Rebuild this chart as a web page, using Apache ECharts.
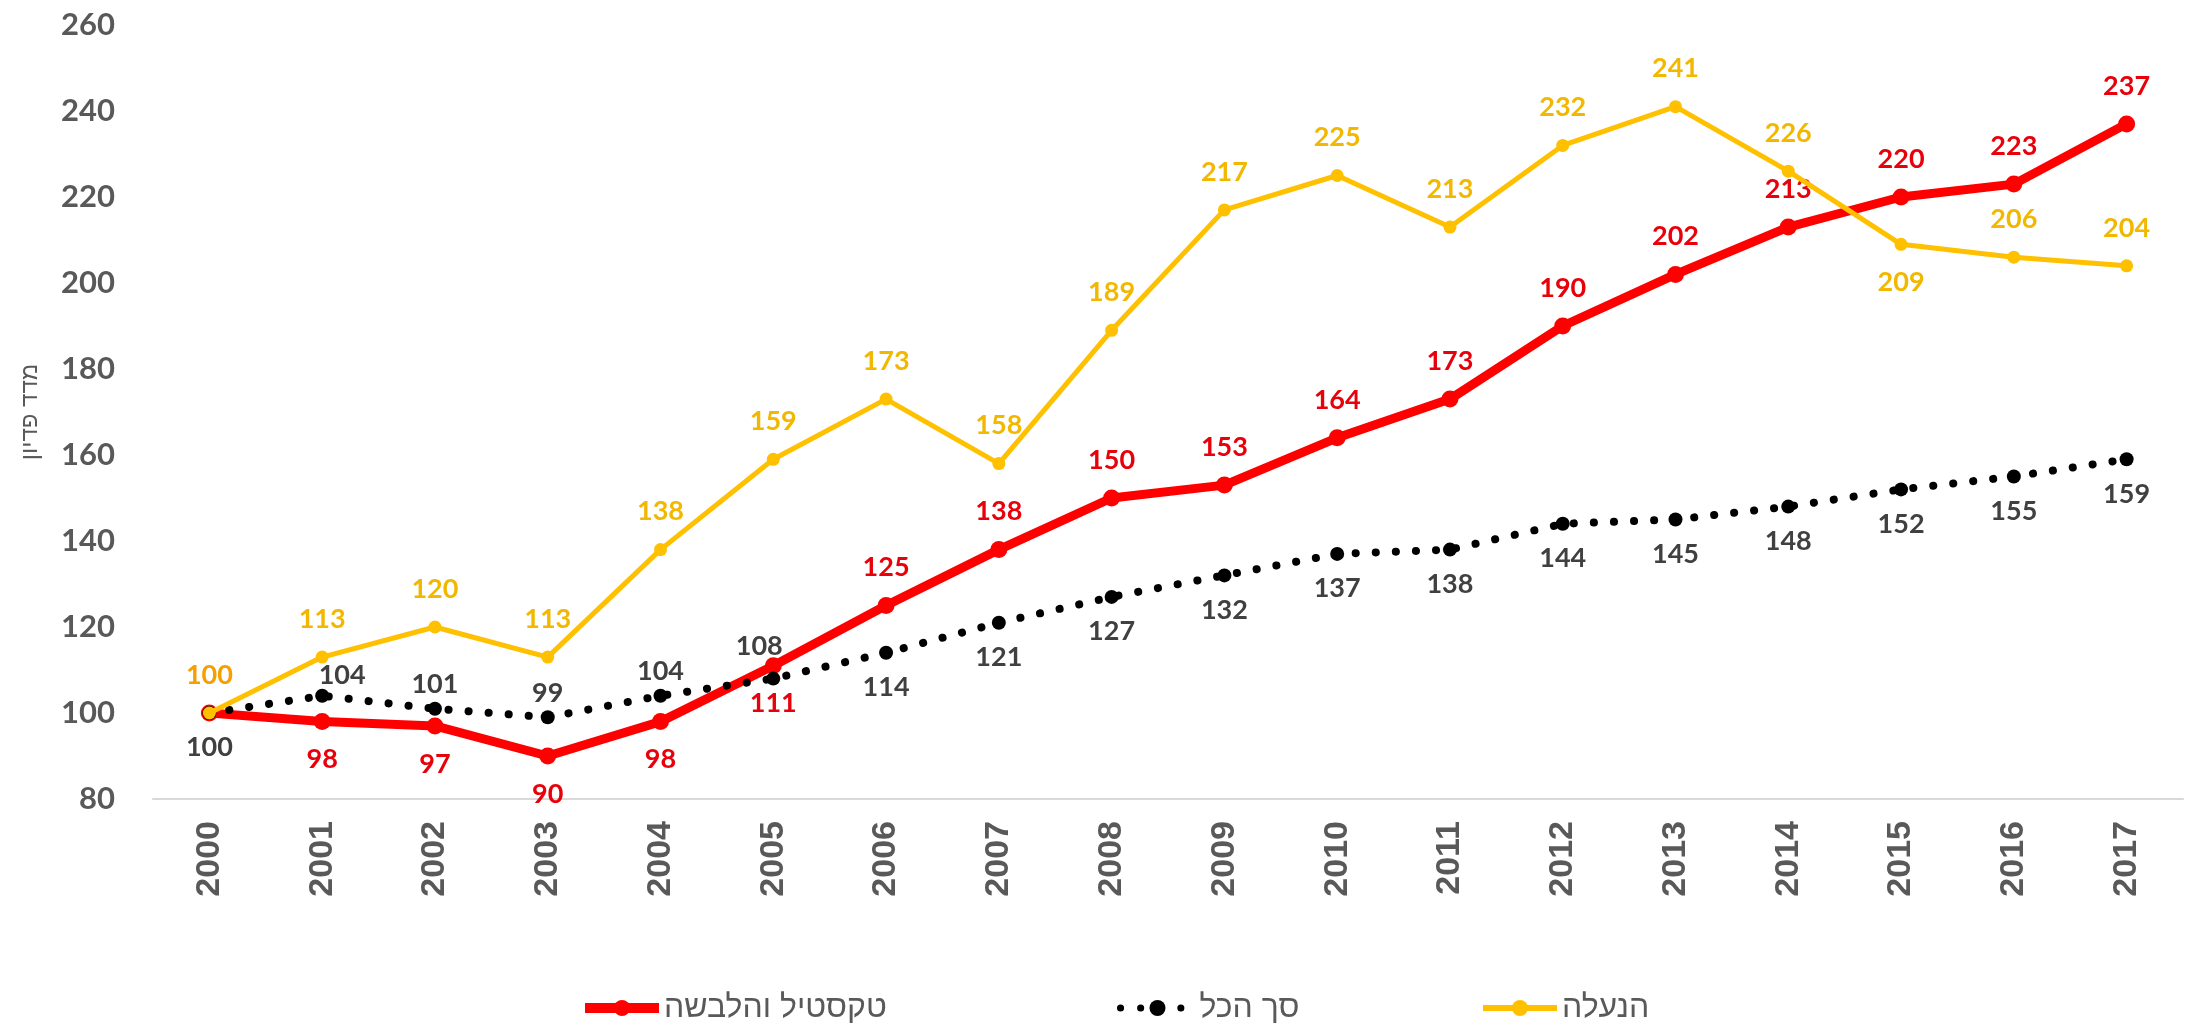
<!DOCTYPE html>
<html>
<head>
<meta charset="utf-8">
<script src="https://cdn.jsdelivr.net/npm/echarts@6/dist/echarts.min.js"></script>
<style>
  html, body { margin: 0; padding: 0; background: #fff; }
  #chart { width: 2186px; height: 1026px; }
</style>
</head>
<body>
<div id="chart"></div>
<script>
const years = ['2000', '2001', '2002', '2003', '2004', '2005', '2006', '2007', '2008',
    '2009', '2010', '2011', '2012', '2013', '2014', '2015', '2016', '2017'];

const textile = [100, 98, 97, 90, 98, 111, 125, 138, 150, 153, 164, 173, 190, 202, 213, 220, 223, 237];
const total = [100, 104, 101, 99, 104, 108, 114, 121, 127, 132, 137, 138, 144, 145, 148, 152, 155, 159];
const footwear = [100, 113, 120, 113, 138, 159, 173, 158, 189, 217, 225, 213, 232, 241, 226, 209, 206, 204];

const yTicks = [80, 100, 120, 140, 160, 180, 200, 220, 240, 260];

const names = {
    textile: 'טקסטיל והלבשה',
    total: 'סך הכל',
    footwear: 'הנעלה'
};

const labelFont = { fontFamily: 'Lato', fontWeight: 'bold', fontSize: 27 };
const legendText = { fontFamily: 'Liberation Sans, DejaVu Sans', fontSize: 32, color: '#595959' };

// red labels sit under the line for the early years, black ones above there
const textileData = textile.map((v, i) => {
    if (i === 0) return { value: v, label: { show: false } };
    return { value: v, label: { position: i <= 5 ? 'bottom' : 'top' } };
});
const totalData = total.map((v, i) => {
    if (i >= 1 && i <= 5) {
        const lbl = { position: 'top', distance: 4 };
        if (i === 1) lbl.offset = [20, 4];
        if (i === 5) lbl.offset = [-14, -8];
        return { value: v, label: lbl };
    }
    return { value: v, label: { position: 'bottom' } };
});
const footwearData = footwear.map((v, i) => {
    if (i === 0) return { value: v, label: { color: '#F5A000' } };
    if (i === 15) return { value: v, label: { position: 'bottom' } };
    return v;
});

function legendAt(name, left, lineW) {
    return {
        data: [name],
        left: left,
        top: 987,
        itemWidth: 74,
        itemHeight: 20,
        itemGap: 5,
        lineStyle: { width: lineW },
        textStyle: legendText
    };
}

const chart = echarts.init(document.getElementById('chart'));

chart.setOption({
    animation: false,
    grid: { left: 153, right: 3, top: 25, bottom: 227 },
    legend: [
        legendAt(names.textile, 575, 10),
        legendAt(names.total, 1112, 7),
        legendAt(names.footwear, 1475, 6)
    ],
    xAxis: {
        type: 'category',
        data: years,
        boundaryGap: true,
        axisLine: { lineStyle: { color: '#d9d9d9', width: 2 } },
        axisTick: { show: false },
        axisLabel: {
            rotate: 90,
            margin: 22,
            color: '#595959',
            fontFamily: 'Liberation Sans',
            fontWeight: 'bold',
            fontSize: 34
        }
    },
    yAxis: {
        type: 'value',
        min: yTicks[0],
        max: yTicks[yTicks.length - 1],
        interval: 20,
        splitLine: { show: false },
        axisLine: { show: false },
        axisTick: { show: false },
        axisLabel: {
            margin: 38,
            color: '#595959',
            fontFamily: 'Lato',
            fontWeight: 'bold',
            fontSize: 31
        }
    },
    graphic: [{
        type: 'text',
        x: 30,
        y: 412,
        rotation: Math.PI / 2,
        style: {
            text: 'מדד פדיון',
            fontFamily: 'Liberation Sans, DejaVu Sans',
            fontSize: 24,
            fill: '#595959',
            align: 'center',
            verticalAlign: 'middle'
        }
    }],
    series: [
        {
            name: names.textile,
            type: 'line',
            data: textileData,
            symbol: 'circle',
            symbolSize: 17,
            color: '#FF0000',
            lineStyle: { width: 9, color: '#FF0000' },
            label: Object.assign({ show: true, color: '#E8000B', distance: 16 }, labelFont),
            z: 2
        },
        {
            name: names.total,
            type: 'line',
            data: totalData,
            symbol: 'circle',
            symbolSize: 14,
            color: '#000000',
            lineStyle: { width: 8, color: '#000000', type: [0.1, 20], cap: 'round' },
            label: Object.assign({ show: true, color: '#404040', distance: 14 }, labelFont),
            z: 3
        },
        {
            name: names.footwear,
            type: 'line',
            data: footwearData,
            symbol: 'circle',
            symbolSize: 13,
            color: '#FFC000',
            lineStyle: { width: 5, color: '#FFC000' },
            label: Object.assign({ show: true, color: '#F2B800', distance: 18 }, labelFont),
            z: 4
        }
    ]
});
</script>
</body>
</html>
